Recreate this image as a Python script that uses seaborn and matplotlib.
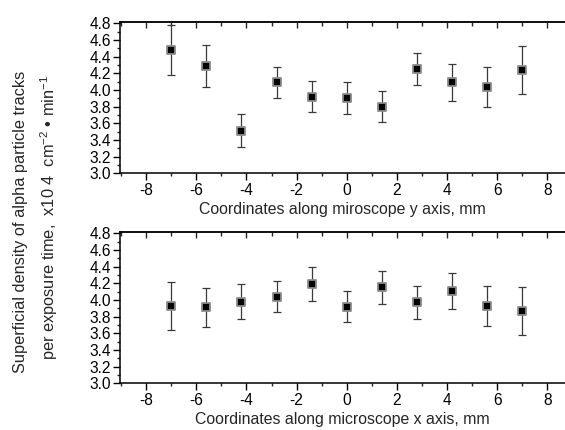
import matplotlib
matplotlib.use("Agg")
import matplotlib.pyplot as plt
from matplotlib.ticker import MultipleLocator
import seaborn as sns
import pandas as pd

# --- data ---
POSITIONS = [-7.0, -5.6, -4.2, -2.8, -1.4, 0.0, 1.4, 2.8, 4.2, 5.6, 7.0]

Y_AXIS_DENSITY = [4.48, 4.29, 3.51, 4.09, 3.92, 3.90, 3.80, 4.25, 4.09, 4.04, 4.24]
Y_AXIS_ERR = [0.30, 0.25, 0.20, 0.19, 0.19, 0.19, 0.185, 0.195, 0.22, 0.24, 0.29]

X_AXIS_DENSITY = [3.93, 3.91, 3.98, 4.04, 4.19, 3.92, 4.15, 3.97, 4.11, 3.93, 3.87]
X_AXIS_ERR = [0.285, 0.235, 0.21, 0.19, 0.20, 0.19, 0.195, 0.195, 0.215, 0.24, 0.285]

XLABELS = ["Coordinates along miroscope y axis, mm",
           "Coordinates along microscope x axis, mm"]
YLABEL_1 = "Superficial density of alpha particle tracks"
YLABEL_2 = "per exposure time,  x10 4  cm$^{-2}$ \u2022 min$^{-1}$"

sns.set_style("ticks")
plt.rcParams["font.family"] = ["Liberation Sans", "DejaVu Sans"]
plt.rcParams["mathtext.fontset"] = "custom"
plt.rcParams["mathtext.rm"] = "Liberation Sans"
plt.rcParams["mathtext.it"] = "Liberation Sans:italic"
plt.rcParams["font.size"] = 10

W, H = 565, 430
fig = plt.figure(figsize=(W / 100, H / 100), dpi=100)


def px_axes(left, top, right, bottom):
    return fig.add_axes([left / W, 1 - bottom / H, (right - left) / W, (bottom - top) / H])


def draw_panel(ax, density, err, xlabel):
    df = pd.DataFrame({"pos": POSITIONS, "density": density, "err": err})
    ax.errorbar(df["pos"], df["density"], yerr=df["err"], fmt="none",
                ecolor="#3a3a3a", elinewidth=0.9, capsize=2.6, capthick=0.9, zorder=2)
    sns.scatterplot(data=df, x="pos", y="density", ax=ax, marker="s", s=34,
                    color="black", edgecolor="#8c8c8c", linewidth=1.3, zorder=3)
    ax.set_xlim(-9.04, 8.7)
    ax.set_ylim(3.0, 4.82)
    ax.xaxis.set_major_locator(MultipleLocator(2))
    ax.xaxis.set_minor_locator(MultipleLocator(1))
    ax.yaxis.set_major_locator(MultipleLocator(0.2))
    ax.yaxis.set_minor_locator(MultipleLocator(0.1))
    ax.yaxis.set_major_formatter(matplotlib.ticker.FormatStrFormatter("%.1f"))
    ax.xaxis.set_major_formatter(matplotlib.ticker.FuncFormatter(lambda v, p: f"{v:.0f}".replace("\u2212", "-")))
    ax.tick_params(axis="both", which="major", length=5, width=1, direction="out",
                   labelsize=11.2, pad=1.5, colors="black")
    ax.tick_params(axis="both", which="minor", length=2.5, width=1, direction="out")
    ax.tick_params(axis="x", which="major", pad=2)
    for side in ["left", "bottom", "top"]:
        ax.spines[side].set_linewidth(1.1)
        ax.spines[side].set_color("black")
    ax.spines["right"].set_visible(False)
    ax.spines["top"].set_visible(True)
    top = ax.secondary_xaxis("top")
    top.xaxis.set_major_locator(MultipleLocator(2))
    top.xaxis.set_minor_locator(MultipleLocator(1))
    top.tick_params(which="major", direction="in", length=4.5, width=1, labeltop=False)
    top.tick_params(which="minor", direction="in", length=3, width=1)
    top.spines["top"].set_linewidth(1.1)
    ax.set_xlabel(xlabel, fontsize=11.4, labelpad=3)
    ax.set_ylabel("")
    ax.grid(False)


ax_top = px_axes(120, 21.6, 565, 173.3)
ax_bot = px_axes(120, 231.6, 565, 383.3)

draw_panel(ax_top, Y_AXIS_DENSITY, Y_AXIS_ERR, XLABELS[0])
draw_panel(ax_bot, X_AXIS_DENSITY, X_AXIS_ERR, XLABELS[1])

fig.text(21 / W, 1 - 222 / H, YLABEL_1, rotation=90, ha="center", va="center", fontsize=11.8)
fig.text(49 / W, 1 - 217 / H, YLABEL_2, rotation=90, ha="center", va="center", fontsize=11.8)

fig.savefig("out.png", dpi=100, facecolor="white")
plt.close(fig)
